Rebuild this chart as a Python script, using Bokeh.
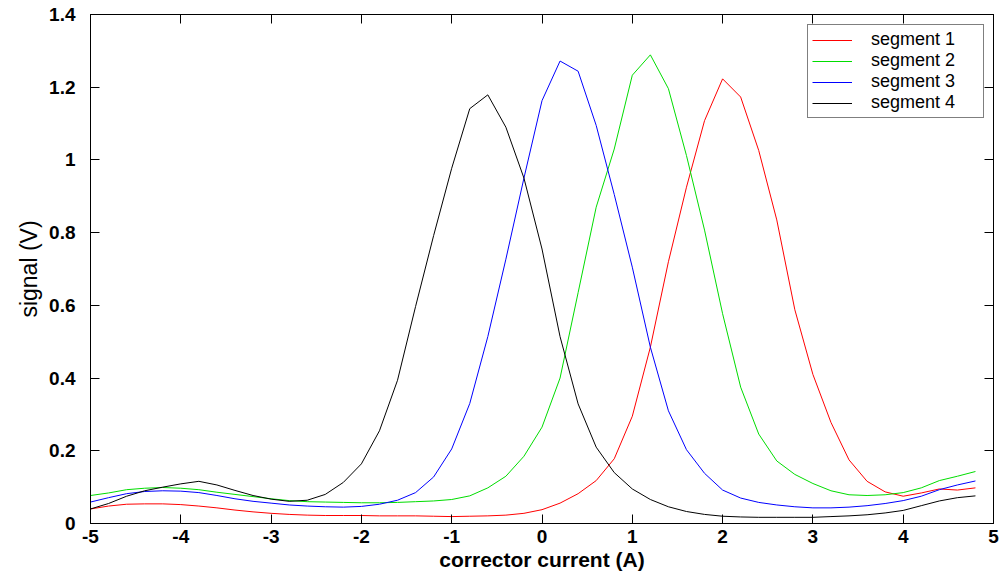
from bokeh.plotting import figure
from bokeh.models import Range1d, LinearAxis, FixedTicker, Legend, LegendItem
from bokeh.embed import file_html
from bokeh.resources import INLINE

current = [-5.0, -4.8, -4.6, -4.4, -4.2, -4.0, -3.8, -3.6, -3.4, -3.2,
           -3.0, -2.8, -2.6, -2.4, -2.2, -2.0, -1.8, -1.6, -1.4, -1.2,
           -1.0, -0.8, -0.6, -0.4, -0.2, 0.0, 0.2, 0.4, 0.6, 0.8,
           1.0, 1.2, 1.4, 1.6, 1.8, 2.0, 2.2, 2.4, 2.6, 2.8,
           3.0, 3.2, 3.4, 3.6, 3.8, 4.0, 4.2, 4.4, 4.6, 4.8]

segment1 = [0.040, 0.048, 0.053, 0.054, 0.054, 0.052, 0.048, 0.043, 0.037, 0.032,
            0.028, 0.025, 0.023, 0.022, 0.022, 0.022, 0.021, 0.021, 0.021, 0.020,
            0.019, 0.020, 0.021, 0.023, 0.028, 0.038, 0.056, 0.082, 0.118, 0.178,
            0.295, 0.485, 0.720, 0.925, 1.108, 1.223, 1.173, 1.026, 0.835, 0.588,
            0.410, 0.278, 0.175, 0.116, 0.087, 0.075, 0.084, 0.095, 0.092, 0.098]

segment2 = [0.077, 0.084, 0.093, 0.097, 0.099, 0.097, 0.093, 0.086, 0.080, 0.074,
            0.068, 0.063, 0.060, 0.059, 0.058, 0.057, 0.057, 0.058, 0.060, 0.062,
            0.066, 0.076, 0.098, 0.130, 0.185, 0.265, 0.400, 0.635, 0.870, 1.030,
            1.233, 1.289, 1.196, 1.012, 0.807, 0.577, 0.375, 0.246, 0.172, 0.135,
            0.110, 0.090, 0.079, 0.077, 0.079, 0.085, 0.098, 0.118, 0.130, 0.143]

segment3 = [0.059, 0.071, 0.082, 0.088, 0.090, 0.089, 0.085, 0.077, 0.068, 0.061,
            0.056, 0.051, 0.048, 0.046, 0.045, 0.047, 0.053, 0.064, 0.085, 0.128,
            0.205, 0.330, 0.514, 0.727, 0.950, 1.163, 1.272, 1.244, 1.095, 0.905,
            0.705, 0.485, 0.310, 0.203, 0.138, 0.092, 0.070, 0.058, 0.051, 0.046,
            0.043, 0.043, 0.045, 0.049, 0.055, 0.063, 0.075, 0.093, 0.106, 0.117]

segment4 = [0.040, 0.055, 0.075, 0.090, 0.100, 0.109, 0.116, 0.106, 0.091, 0.077,
            0.067, 0.061, 0.064, 0.080, 0.113, 0.164, 0.255, 0.394, 0.597, 0.792,
            0.977, 1.141, 1.179, 1.090, 0.950, 0.755, 0.514, 0.329, 0.210, 0.140,
            0.095, 0.066, 0.046, 0.033, 0.025, 0.020, 0.018, 0.017, 0.017, 0.017,
            0.017, 0.019, 0.021, 0.024, 0.029, 0.036, 0.049, 0.062, 0.071, 0.076]

series_names = ["segment 1", "segment 2", "segment 3", "segment 4"]
series_colors = ["#ff0000", "#00dd00", "#0000ff", "#000000"]

x_ticks = [-5, -4, -3, -2, -1, 0, 1, 2, 3, 4, 5]
x_tick_labels = ["-5", "-4", "-3", "-2", "-1", "0", "1", "2", "3", "4", "5"]
y_ticks = [0, 0.2, 0.4, 0.6, 0.8, 1.0, 1.2, 1.4]
y_tick_labels = ["0", "0.2", "0.4", "0.6", "0.8", "1", "1.2", "1.4"]

FONT = "Liberation Sans"

p = figure(width=1006, height=578, output_backend="svg", toolbar_location=None,
           x_range=Range1d(-5, 5), y_range=Range1d(0, 1.4),
           min_border_left=90, min_border_right=13, min_border_top=14,
           min_border_bottom=55)
p.background_fill_color = "white"
p.border_fill_color = "white"
p.outline_line_color = "black"
p.outline_line_width = 1
p.xgrid.visible = False
p.ygrid.visible = False

renderers = []
for ys, c in zip([segment1, segment2, segment3, segment4], series_colors):
    r = p.line(current, ys, line_color=c, line_width=1)
    renderers.append(r)

def style_axis(ax, ticks, labels):
    ax.ticker = FixedTicker(ticks=ticks)
    ax.major_label_overrides = {t: l for t, l in zip(ticks, labels)}
    ax.major_tick_in = 9
    ax.major_tick_out = 0
    ax.minor_tick_in = 0
    ax.minor_tick_out = 0
    ax.axis_line_color = "black"
    ax.major_tick_line_color = "black"
    ax.major_label_text_font = FONT
    ax.major_label_text_font_style = "bold"
    ax.major_label_text_color = "black"

xa = p.xaxis[0]
style_axis(xa, x_ticks, x_tick_labels)
xa.major_label_text_font_size = "19px"
xa.major_label_standoff = 6
xa.axis_label = "corrector current (A)"
xa.axis_label_text_font = FONT
xa.axis_label_text_font_style = "bold"
xa.axis_label_text_font_size = "21px"
xa.axis_label_text_color = "black"
xa.axis_label_standoff = 2

ya = p.yaxis[0]
style_axis(ya, y_ticks, y_tick_labels)
ya.major_label_text_font_size = "19px"
ya.major_label_standoff = 15
ya.axis_label = "signal (V)"
ya.axis_label_text_font = FONT
ya.axis_label_text_font_style = "normal"
ya.axis_label_text_font_size = "23px"
ya.axis_label_text_color = "black"
ya.axis_label_standoff = 4

# mirrored frame axes (top and right) carrying only inward ticks, no labels
for side in ("above", "right"):
    ax = LinearAxis()
    if side == "above":
        style_axis(ax, x_ticks, x_tick_labels)
    else:
        style_axis(ax, y_ticks, y_tick_labels)
    ax.major_label_text_color = None
    ax.major_label_text_font_size = "1px"
    ax.major_label_standoff = 0
    p.add_layout(ax, side)

legend = Legend(items=[LegendItem(label=n, renderers=[r]) for n, r in zip(series_names, renderers)],
                location=(717, 405))
legend.border_line_color = "black"
legend.border_line_width = 1
legend.background_fill_color = "white"
legend.background_fill_alpha = 1
legend.label_text_font = FONT
legend.label_text_font_size = "18px"
legend.label_text_color = "black"
legend.glyph_width = 40
legend.glyph_height = 18
legend.label_height = 18
legend.label_width = 108
legend.label_standoff = 19
legend.spacing = 0
legend.padding = 4
legend.margin = 0
p.add_layout(legend, "center")

open("out.html", "w").write(file_html(p, INLINE))
